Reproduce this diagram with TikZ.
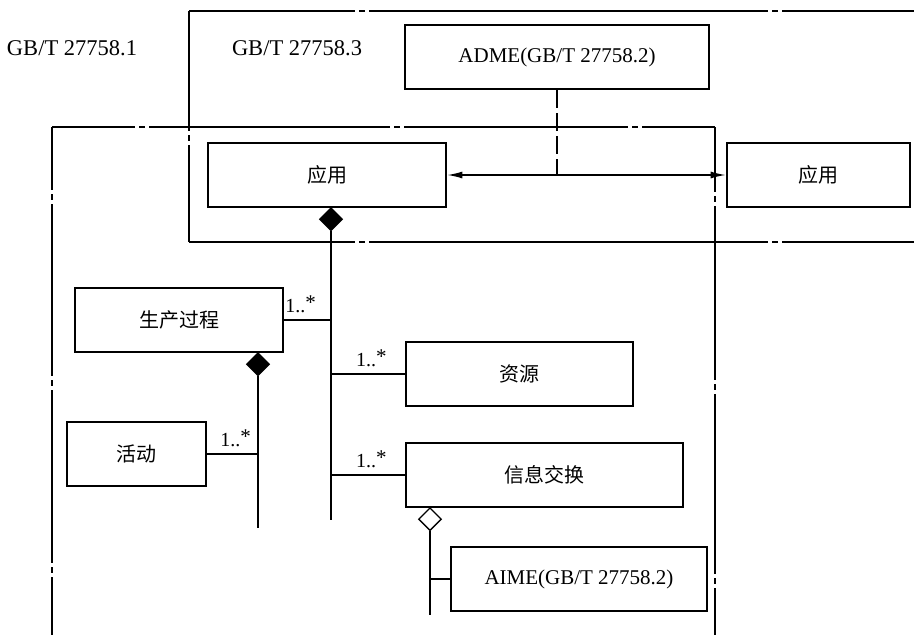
\documentclass[tikz,border=0pt]{standalone}
\usepackage{fontspec}
\setmainfont{Liberation Serif}
\newfontfamily\cjk{Noto Sans CJK SC}
\usetikzlibrary{arrows.meta, positioning, shapes.geometric}
\newcommand{\onemany}{1..{\fontsize{21}{21}\selectfont\raisebox{2.5pt}{*}}}
\tikzset{
  box/.style = {rectangle, draw=black, line width=2.8pt, fill=white, minimum height=64pt,
                inner sep=4pt, font=\cjk\fontsize{20}{21}\selectfont},
  latinbox/.style = {box, font=\fontsize{21}{22}\selectfont},
  conn/.style = {line width=1.3pt},
  arr/.style = {{Latex[length=15pt,width=7pt]}-{Latex[length=15pt,width=7pt]}, line width=1.3pt}
}

\begin{document}
\begin{tikzpicture}[x=1pt, y=-1pt]
\tikzset{
  mult/.style = {font=\fontsize{20}{20}\selectfont, inner sep=1pt, above=6pt},
  dia/.style = {diamond, draw=black, line width=1.3pt, minimum width=23pt,
                minimum height=23pt, inner sep=0pt, anchor=north},
  stdlbl/.style = {font=\fontsize{22.5}{24}\selectfont, inner sep=0pt}
}
\useasboundingbox (0,0) rectangle (914,635);

% ----- FRAMES -----
% GB/T 27758.3
\draw[conn, dash pattern=on 166pt off 4pt on 6pt off 4pt on 399pt off 4pt on 6pt off 4pt on 300pt] (189,11) -- (914,11);
\draw[conn, dash pattern=on 166pt off 4pt on 6pt off 4pt on 399pt off 4pt on 6pt off 4pt on 300pt] (189,242) -- (914,242);
\draw[conn, dash pattern=on 120pt off 4pt on 6pt off 4pt on 300pt] (189,11) -- (189,242);
% GB/T 27758.1
\draw[conn, dash pattern=on 83pt off 4pt on 6pt off 4pt on 241pt off 4pt on 6pt off 4pt on 224pt off 4pt on 6pt off 4pt on 300pt] (52,127) -- (715,127);
\draw[conn, dash pattern=on 63pt off 4pt on 6pt off 4pt on 172pt off 4pt on 6pt off 4pt on 173pt off 4pt on 6pt off 4pt on 300pt] (52,127) -- (52,635);
\draw[conn, dash pattern=on 65pt off 4pt on 6pt off 4pt on 174pt off 4pt on 6pt off 4pt on 180pt off 4pt on 6pt off 4pt on 300pt] (715,127) -- (715,635);

\node[stdlbl] (std1) at (72,48) {GB/T 27758.1};
\node[stdlbl] (std3) at (297,48) {GB/T 27758.3};

% ----- BOXES -----
\node[latinbox, minimum width=304pt] (adme) at (557,57) {ADME(GB/T 27758.2)};
\node[box, minimum width=238pt] (appl) at (327,175) {应用};
\node[box, minimum width=183pt] (appr) at (818.5,175) {应用};
\node[box, minimum width=208pt] (proc) at (179,320) {生产过程};
\node[box, minimum width=139pt] (act) at (136.5,454) {活动};
\node[box, minimum width=227pt] (res) at (519.5,374) {资源};
\node[box, minimum width=277pt] (info) at (544.5,475) {信息交换};
\node[latinbox, minimum width=256pt] (aime) at (579,579) {AIME(GB/T 27758.2)};

% diamonds and trunk ends
\node[dia, fill=black] (dapp) at (331,207) {};
\node[dia, fill=black] (dproc) at (258,352) {};
\node[dia, fill=white] (dinfo) at (430,507) {};
\coordinate (tapp) at (331,520);
\coordinate (tproc) at (258,528);
\coordinate (tinfo) at (430,615);

% ----- CONNECTORS -----
\draw[arr] (appl.east) -- (appr.west);
\draw[conn, dash pattern=on 18pt off 5pt] (adme.south) -- (adme.south |- appl.east);
% trunk below application
\draw[conn] (dapp.south) -- (tapp);
\draw[conn] (proc.east) -- node[mult, pos=.35] {\onemany} (proc.east -| tapp);
\draw[conn] (res.west -| tapp) -- node[mult, pos=.55] {\onemany} (res.west);
\draw[conn] (info.west -| tapp) -- node[mult, pos=.55] {\onemany} (info.west);
% trunk below process
\draw[conn] (dproc.south) -- (tproc);
\draw[conn] (act.east) -- node[mult, pos=.56] {\onemany} (act.east -| tproc);
% trunk below information exchange
\draw[conn] (dinfo.south) -- (tinfo);
\draw[conn] (aime.west -| tinfo) -- (aime.west);

\end{tikzpicture}
\end{document}
